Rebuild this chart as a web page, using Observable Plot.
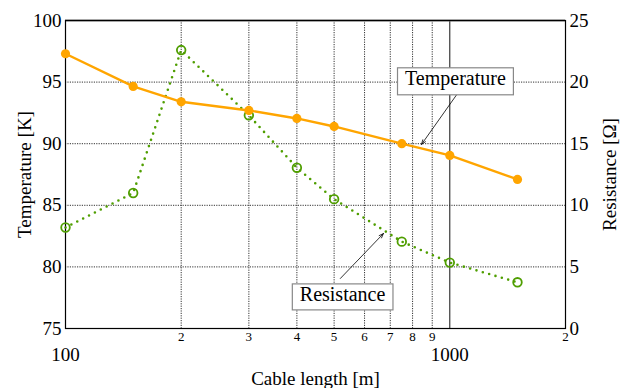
<!DOCTYPE html>
<html>
<head>
<meta charset="utf-8">
<script src="https://cdn.jsdelivr.net/npm/d3@7"></script>
<script src="https://cdn.jsdelivr.net/npm/@observablehq/plot@0.6"></script>
<style>
  body { margin: 0; background: #fff; }
  #chart svg, #chart svg text { font-family: "Liberation Serif", "DejaVu Serif", serif !important; }
</style>
</head>
<body>
<div id="chart"></div>
<script>
// Data
const lengths = [100, 150, 200, 300, 400, 500, 750, 1000, 1500];
const temperature = [97.3, 94.65, 93.4, 92.7, 92.05, 91.4, 90.0, 89.05, 87.1];
const resistance = [8.2, 11.0, 22.6, 17.3, 13.05, 10.5, 7.05, 5.35, 3.75];

const tempTicks = [75, 80, 85, 90, 95, 100];
const resTicks = [0, 5, 10, 15, 20, 25];
const minorX = [200, 300, 400, 500, 600, 700, 800, 900, 2000];
const minorLabels = ["2", "3", "4", "5", "6", "7", "8", "9", "2"];
const majorX = [100, 1000];

// Annotations (data coordinates)
const annLabels = ["Temperature", "Resistance"];
const annX = [1034, 526];
const annY = [95.3, 77.76];
const arrowX1 = [1047, 519];
const arrowY1 = [94.07, 79.06];
const arrowX2 = [844, 672];
const arrowY2 = [89.94, 82.71];

const orange = "#FFA500";
const green = "#4f9e00";

const rows = lengths.map((L, i) => ({L, T: temperature[i], R: resistance[i]}));
const resToT = r => 75 + r * (25 / 25);
const anns = annLabels.map((t, i) => ({t, x: annX[i], y: annY[i]}));
const arrows = arrowX1.map((x1, i) => ({x1, y1: arrowY1[i], x2: arrowX2[i], y2: arrowY2[i]}));
const minor = minorX.map((x, i) => ({x, t: minorLabels[i]}));

const chart = Plot.plot({
  width: 623,
  height: 388,
  marginLeft: 65,
  marginRight: 58,
  marginTop: 20,
  marginBottom: 60,
  style: {fontFamily: "'Liberation Serif', 'DejaVu Serif', serif", color: "#000", background: "#fff"},
  x: {type: "log", domain: [100, 2000]},
  y: {domain: [75, 100]},
  marks: [
    // grid
    Plot.ruleX(minorX.filter(d => d < 2000), {stroke: "#333", strokeWidth: 1, strokeDasharray: "1.2,1.2"}),
    Plot.ruleX([1000], {stroke: "#111", strokeWidth: 1}),
    Plot.ruleY([80, 85, 90, 95], {stroke: "#333", strokeWidth: 1, strokeDasharray: "1.2,1.2"}),
    Plot.ruleY([100], {stroke: "#777", strokeWidth: 2}),
    Plot.frame({stroke: "#000", strokeWidth: 1.2}),
    // axes
    Plot.axisY(tempTicks, {anchor: "left", tickSize: 0, tickPadding: 4, fontSize: 19,
      label: "Temperature [K]", labelAnchor: "center", labelArrow: "none", labelOffset: 48}),
    Plot.axisY(tempTicks, {anchor: "right", tickSize: 0, tickPadding: 4, fontSize: 19,
      tickFormat: d => String(resTicks[tempTicks.indexOf(d)]),
      label: "Resistance [Ω]", labelAnchor: "center", labelArrow: "none", labelOffset: 50}),
    Plot.text(minor, {x: "x", text: "t", frameAnchor: "bottom", lineAnchor: "top", dy: 3,
      fontSize: 13, fill: "#000"}),
    Plot.axisX(majorX, {anchor: "bottom", tickSize: 0, tickPadding: 19, fontSize: 19,
      tickFormat: d => String(d),
      label: "Cable length [m]", labelAnchor: "center", labelArrow: "none", labelOffset: 56}),
    // resistance series
    Plot.line(rows, {x: "L", y: d => resToT(d.R), stroke: green, strokeWidth: 2.6,
      strokeDasharray: "0,6.6", strokeLinecap: "round"}),
    Plot.dot(rows, {x: "L", y: d => resToT(d.R), r: 4.3, stroke: green, strokeWidth: 1.8, fill: "none"}),
    // temperature series
    Plot.line(rows, {x: "L", y: "T", stroke: orange, strokeWidth: 2.4}),
    Plot.dot(rows, {x: "L", y: "T", r: 4.6, fill: orange, stroke: "none"}),
    // annotations
    Plot.arrow(arrows, {x1: "x1", y1: "y1", x2: "x2", y2: "y2", stroke: "#000", strokeWidth: 0.8,
      headLength: 9, headAngle: 40}),
    Plot.text(anns, {x: "x", y: "y", text: "t", fontSize: 20, fill: "#000"})
  ]
});

document.getElementById("chart").appendChild(chart);

// Boxes behind annotation labels
chart.querySelectorAll("text").forEach(t => {
  if (!annLabels.includes(t.textContent)) return;
  if (t.closest('g[aria-label="text"]') == null) return;
  const b = t.getBBox();
  const r = document.createElementNS("http://www.w3.org/2000/svg", "rect");
  r.setAttribute("x", b.x - 7.5);
  r.setAttribute("y", b.y + 1);
  r.setAttribute("width", b.width + 15);
  r.setAttribute("height", b.height + 4);
  r.setAttribute("fill", "#fff");
  r.setAttribute("stroke", "#888");
  r.setAttribute("stroke-width", "1.2");
  const tr = t.getAttribute("transform");
  if (tr) r.setAttribute("transform", tr);
  t.parentNode.insertBefore(r, t);
});
</script>
</body>
</html>
